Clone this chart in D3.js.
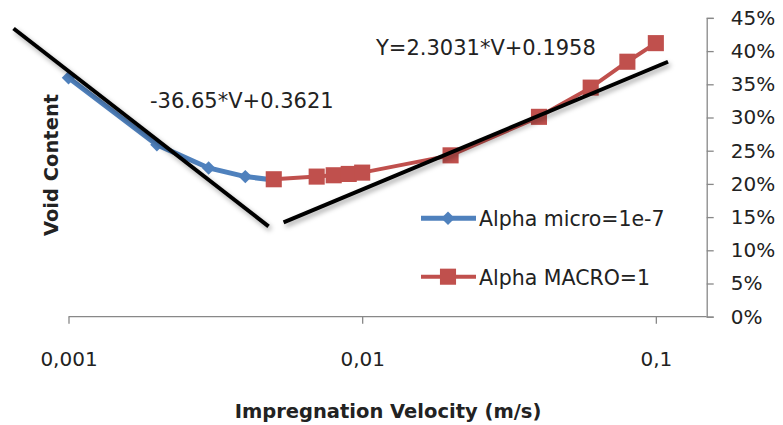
<!DOCTYPE html>
<html>
<head>
<meta charset="utf-8">
<script src="https://cdn.jsdelivr.net/npm/d3@7"></script>
<style>
  body { margin: 0; background: #fff; }
  text { font-family: "DejaVu Sans", sans-serif; fill: #222; }
</style>
</head>
<body>
<div id="chart"></div>
<script>
/* void content vs impregnation velocity, log x axis */

const microV = [0.001, 0.002, 0.003, 0.004, 0.005];
const microY = [0.360, 0.259, 0.224, 0.211, 0.206];

const macroV = [0.005, 0.007, 0.008, 0.009, 0.01, 0.02, 0.04, 0.06, 0.08, 0.1];
const macroY = [0.207, 0.211, 0.213, 0.215, 0.217, 0.243, 0.301, 0.345, 0.384, 0.412];

// trend line end points
const trendLow = [[0.00065, 0.434], [0.0048, 0.136]];
const trendHigh = [[0.0054, 0.142], [0.110, 0.384]];

const xTicks = [0.001, 0.01, 0.1];
const xTickLabels = ["0,001", "0,01", "0,1"];
const yTicks = [0, 0.05, 0.1, 0.15, 0.2, 0.25, 0.3, 0.35, 0.4, 0.45];

const seriesNames = ["Alpha micro=1e-7", "Alpha MACRO=1"];
const equations = ["-36.65*V+0.3621", "Y=2.3031*V+0.1958"];

const width = 783,
      height = 425;

const blue = "#4F81BD",
      red = "#C0504D";

let svg = d3.select("#chart")
    .append("svg")
    .attr("width", width)
    .attr("height", height);

let defs = svg.append("defs");
let shadow = defs.append("filter")
    .attr("id", "shadow")
    .attr("x", "-20%").attr("y", "-20%")
    .attr("width", "140%").attr("height", "140%");
shadow.append("feDropShadow")
    .attr("dx", 2).attr("dy", 3)
    .attr("stdDeviation", 2.5)
    .attr("flood-color", "#000")
    .attr("flood-opacity", 0.35);

let x = d3.scaleLog()
    .domain([0.001, 0.149])
    .range([68.5, 706.7]);

let y = d3.scaleLinear()
    .domain([0, 0.45])
    .range([316.7, 17.9]);

// x axis
let xAxis = svg.append("g")
    .attr("transform", `translate(0,${y(0)})`)
    .call(d3.axisBottom(x)
        .tickValues(xTicks)
        .tickFormat((d, i) => xTickLabels[i])
        .tickSize(7)
        .tickPadding(28));
xAxis.select(".domain").attr("stroke", "#888").attr("stroke-width", 1.3)
    .attr("d", `M${x(0.001)},0H${x(0.149)}`);
xAxis.selectAll(".tick line").attr("stroke", "#888").attr("stroke-width", 1.3);
xAxis.selectAll(".tick text")
    .style("font-size", "20px")
    .attr("fill", "#222");

// y axis on the right
let yAxis = svg.append("g")
    .attr("transform", `translate(${x(0.149)},0)`)
    .call(d3.axisRight(y)
        .tickValues(yTicks)
        .tickFormat(d3.format(".0%"))
        .tickSize(7)
        .tickPadding(17));
yAxis.select(".domain").attr("stroke", "#888").attr("stroke-width", 1.3);
yAxis.selectAll(".tick line").attr("stroke", "#888").attr("stroke-width", 1.3);
yAxis.selectAll(".tick text")
    .style("font-size", "20px")
    .attr("fill", "#222");

let line = d3.line()
    .x(d => x(d[0]))
    .y(d => y(d[1]));

let diamond = d3.symbol().type(d3.symbolDiamond2).size(115);
let square = d3.symbol().type(d3.symbolSquare2).size(330);

// micro series
let microData = microV.map((v, i) => [v, microY[i]]);
svg.append("path")
    .datum(microData)
    .attr("fill", "none")
    .attr("stroke", blue)
    .attr("stroke-width", 5)
    .attr("d", line);
svg.selectAll(".micro")
    .data(microData)
    .join("path")
    .attr("class", "micro")
    .attr("transform", d => `translate(${x(d[0])},${y(d[1])})`)
    .attr("d", diamond)
    .attr("fill", blue);

// macro series
let macroData = macroV.map((v, i) => [v, macroY[i]]);
svg.append("path")
    .datum(macroData)
    .attr("fill", "none")
    .attr("stroke", red)
    .attr("stroke-width", 4)
    .attr("d", line);
svg.selectAll(".macro")
    .data(macroData)
    .join("path")
    .attr("class", "macro")
    .attr("transform", d => `translate(${x(d[0])},${y(d[1])})`)
    .attr("d", square)
    .attr("fill", red);

// trend lines
svg.selectAll(".trend")
    .data([trendLow, trendHigh])
    .join("path")
    .attr("class", "trend")
    .attr("fill", "none")
    .attr("stroke", "#000")
    .attr("stroke-width", 4)
    .attr("filter", "url(#shadow)")
    .attr("d", line);

// equations
svg.append("text")
    .attr("x", 150).attr("y", 108)
    .style("font-size", "21px")
    .text(equations[0]);
svg.append("text")
    .attr("x", 376).attr("y", 55)
    .style("font-size", "21px")
    .text(equations[1]);

// legend
let legend = svg.append("g");
let lg = legend.selectAll("g")
    .data(seriesNames)
    .join("g")
    .attr("transform", (d, i) => `translate(421,${218.3 + i * 58.4})`);
lg.append("line")
    .attr("x1", 0).attr("x2", 55)
    .attr("stroke", (d, i) => i ? red : blue)
    .attr("stroke-width", (d, i) => i ? 4 : 5);
lg.append("path")
    .attr("transform", "translate(27,0)")
    .attr("d", (d, i) => i ? square() : diamond())
    .attr("fill", (d, i) => i ? red : blue);
lg.append("text")
    .attr("x", 58).attr("y", 8)
    .style("font-size", "20.5px")
    .text(d => d);

// axis titles
svg.append("text")
    .attr("x", 388).attr("y", 418)
    .attr("text-anchor", "middle")
    .style("font-size", "19.5px")
    .style("font-weight", "bold")
    .text("Impregnation Velocity (m/s)");
svg.append("text")
    .attr("transform", "translate(58,165) rotate(-90)")
    .attr("text-anchor", "middle")
    .style("font-size", "19.5px")
    .style("font-weight", "bold")
    .text("Void Content");
</script>
</body>
</html>
